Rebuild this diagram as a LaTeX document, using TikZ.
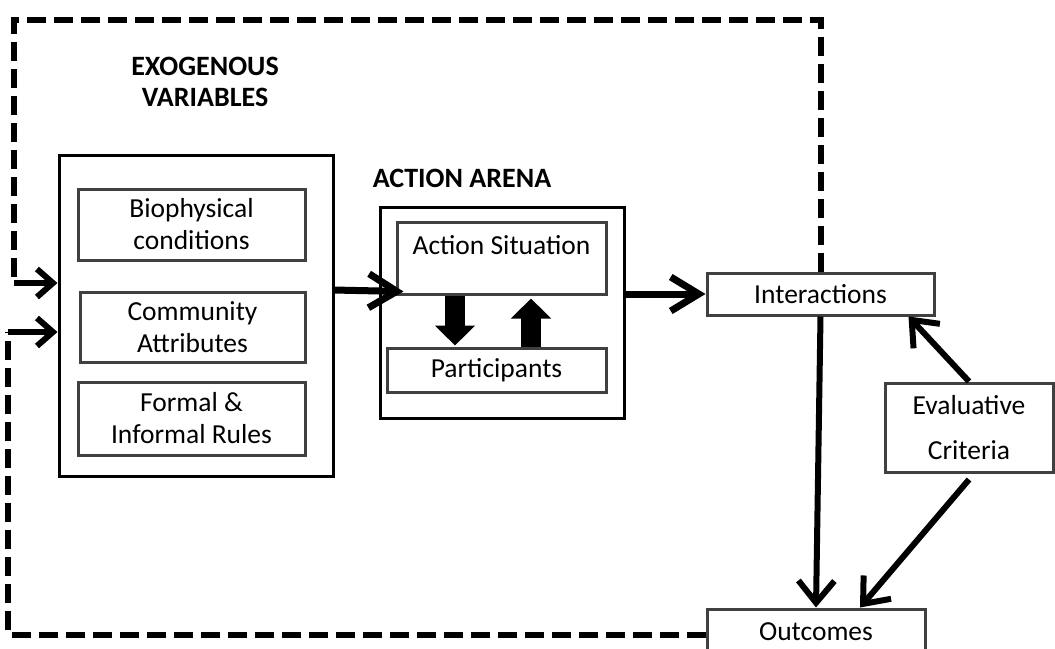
\documentclass[tikz,border=0pt]{standalone}
\usepackage{fontspec}
\setmainfont{Carlito}
\usetikzlibrary{arrows.meta}
\begin{document}
\begin{tikzpicture}[x=1pt,y=-1pt,
  txt/.style={font=\fontsize{27.5}{32}\selectfont, align=center},
  outerbox/.style={draw=black, line width=3pt, inner sep=0pt},
  innerbox/.style={draw=black!75, line width=3pt, inner sep=0pt, txt},
  title/.style={font=\fontsize{28}{31}\selectfont\bfseries, align=center, inner sep=0pt},
  dashline/.style={line width=6pt, dash pattern=on 19pt off 8pt},
  fbarrow/.style={line width=6pt, -{Straight Barb[length=16pt,width=28pt]}},
  rarrow/.style={line width=6pt, -{Straight Barb[length=22pt,width=36pt]}},
  bigarrow/.style={line width=7pt, -{Straight Barb[length=28pt,width=34pt]}},
  blockarrow/.style={line width=20pt, -{Triangle[length=20pt,width=39pt]}}
]
\useasboundingbox (0,0) rectangle (1055,648);
\clip (0,0) rectangle (1055,648);
% titles
\node[title] (exotitle) at (205,82) {EXOGENOUS\\VARIABLES};
\node[title] (arenatitle) at (462,178) {ACTION ARENA};
% exogenous
\node[outerbox, minimum width=274pt, minimum height=321pt] (exo) at (196,315.5) {};
\node[innerbox, minimum width=227pt, minimum height=71pt] (bio) at (191.5,224.5) {Biophysical\\conditions};
\node[innerbox, minimum width=225pt, minimum height=70pt] (comm) at (192.5,327) {Community\\Attributes};
\node[innerbox, minimum width=227pt, minimum height=73pt] (formal) at (191.5,418.5) {Formal \&\\Informal Rules};
% action arena
\node[outerbox, minimum width=244pt, minimum height=211pt] (arena) at (502,312.5) {};
\node[innerbox, minimum width=209pt, minimum height=72pt] (situation) at (501.5,258) {};
\node[txt, inner sep=0pt] (sittext) at (501.5,245) {Action Situation};
\node[innerbox, minimum width=219pt, minimum height=44pt] (part) at (496.5,370) {Participants};
% right side
\node[innerbox, minimum width=227pt, minimum height=42pt] (inter) at (820.5,294) {Interactions};
\node[innerbox, minimum width=168pt, minimum height=89pt] (eval) at (969,427.5) {Evaluative\\[13pt]Criteria};
\node[innerbox, minimum width=218pt, minimum height=51pt] (outc) at (816,634.5) {};
\node[txt, inner sep=0pt] (outtext) at (816,632) {Outcomes};
% block arrows between situation and participants
\coordinate (dnx) at (455,0);
\coordinate (upx) at (531,0);
\draw[blockarrow] (dnx |- situation.south) -- ([yshift=1pt]dnx |- part.north);
\draw[blockarrow] (upx |- part.north) -- ([yshift=-3pt]upx |- situation.south);
% main arrows
\coordinate (exoout) at (333,290);
\draw[bigarrow] (exoout) -- ([xshift=8pt,yshift=4pt]situation.south west);
\draw[bigarrow] (arena.east |- inter.west) -- (inter.west);
\draw[rarrow] (inter.south) -- (outc.north);
\draw[rarrow] (eval.north) -- ([xshift=-27pt]inter.south east);
\draw[rarrow] ([yshift=-6pt]eval.south) -- ([xshift=44pt]outc.north);
% feedback dashed loops
\coordinate (tl) at (14,20);
\coordinate (c1) at (14,283);
\coordinate (c2) at (8,332);
\draw[dashline] (inter.north) -- (inter.north |- tl) -- (tl) -- (c1);
\draw[fbarrow] (c1) -- (c1 -| exo.west);
\draw[dashline] (outc.west) -- (outc.west -| c2) -- (c2);
\draw[fbarrow] (c2) -- (c2 -| exo.west);
\end{tikzpicture}
\end{document}
